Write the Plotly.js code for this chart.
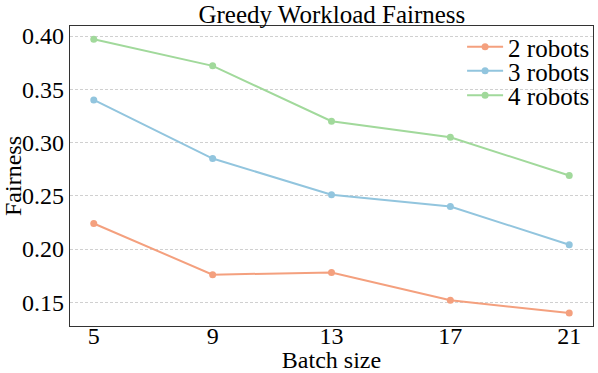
<!DOCTYPE html>
<html>
<head>
<meta charset="utf-8">
<script src="https://cdn.plot.ly/plotly-3.0.1.min.js"></script>
<style>
  html, body { margin: 0; padding: 0; background: #fff; }
  #chart { width: 598px; height: 373px; }
</style>
</head>
<body>
<div id="chart"></div>
<script>
// batch sizes on the x axis
const batchSizes = [5, 9, 13, 17, 21];

// fairness per robot count
const fair2 = [0.224, 0.176, 0.178, 0.152, 0.140];
const fair3 = [0.340, 0.285, 0.251, 0.240, 0.204];
const fair4 = [0.397, 0.372, 0.320, 0.305, 0.269];

const seriesNames = ['2 robots', '3 robots', '4 robots'];
const seriesColors = ['#f4a07e', '#92c5de', '#a1d99b'];

const yTicks = [0.15, 0.20, 0.25, 0.30, 0.35, 0.40];

const FONT = 'Liberation Serif';
const txt = (size) => ({ family: FONT, size: size, color: '#000' });

// one legend per series so the rows can sit tight like the original
const legendIds = ['legend', 'legend2', 'legend3'];
const legendY = [0.93, 0.85, 0.768];

function makeTrace(y, i) {
  return {
    x: batchSizes,
    y: y,
    name: seriesNames[i],
    legend: legendIds[i],
    type: 'scatter',
    mode: 'lines+markers',
    line: { color: seriesColors[i], width: 2 },
    marker: { color: seriesColors[i], size: 7 }
  };
}

const traces = [fair2, fair3, fair4].map(makeTrace);

const layout = {
  width: 598,
  height: 373,
  paper_bgcolor: '#fff',
  plot_bgcolor: '#fff',
  margin: { l: 70, r: 3, t: 26, b: 47 },
  font: txt(24),
  title: {
    text: 'Greedy Workload Fairness',
    font: txt(25),
    x: 0.555,
    xanchor: 'center',
    yref: 'container',
    y: 0.962,
    yanchor: 'middle'
  },
  showlegend: true,
  xaxis: {
    range: [4.2, 21.8],
    tickvals: batchSizes,
    ticktext: batchSizes.map(String),
    showgrid: false,
    zeroline: false,
    showline: true,
    mirror: true,
    linecolor: '#333',
    linewidth: 1.2,
    ticks: '',
    ticklabelstandoff: -12,
    tickfont: txt(24),
    title: { text: 'Batch size', font: txt(24), standoff: 2 },
    automargin: false
  },
  yaxis: {
    range: [0.1278, 0.4094],
    tickvals: yTicks,
    ticktext: yTicks.map(v => v.toFixed(2)),
    showgrid: true,
    gridcolor: '#d0d0d0',
    griddash: '3px,2px',
    gridwidth: 1,
    zeroline: false,
    showline: true,
    mirror: true,
    linecolor: '#333',
    linewidth: 1.2,
    ticks: '',
    tickfont: txt(24),
    title: { text: 'Fairness', font: txt(24), standoff: 0 },
    automargin: false
  }
};

legendIds.forEach((id, i) => {
  layout[id] = {
    x: 1.004, xanchor: 'right',
    y: legendY[i], yanchor: 'middle',
    bgcolor: 'rgba(0,0,0,0)',
    borderwidth: 0,
    font: txt(25),
    itemwidth: 36
  };
});

Plotly.newPlot('chart', traces, layout, { displayModeBar: false, staticPlot: true });
</script>
</body>
</html>
